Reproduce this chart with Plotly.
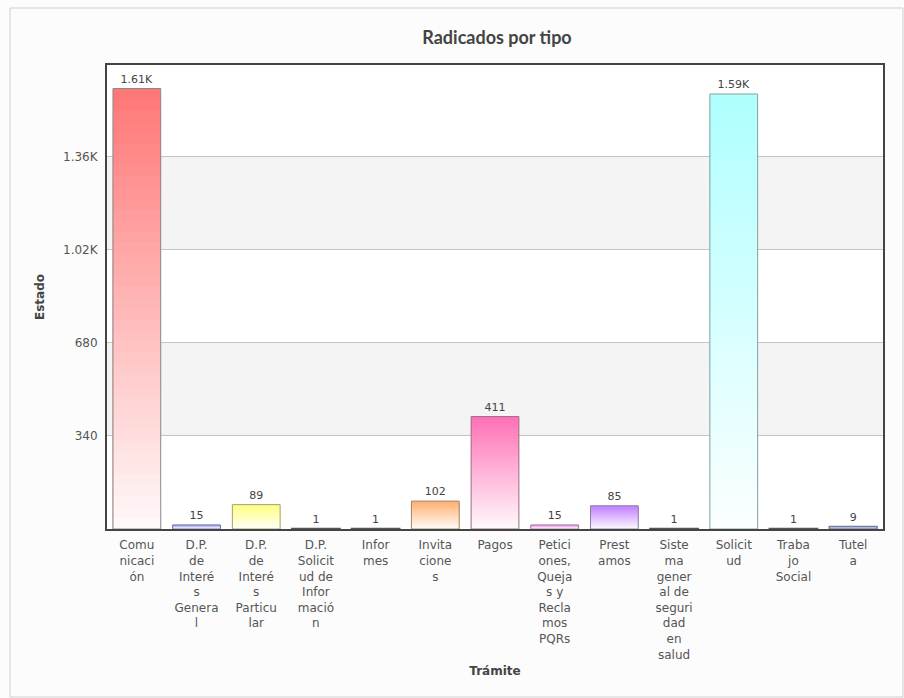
import plotly.graph_objects as go

# ---- data ----
categories = ["Comunicación", "D.P. de Interés General", "D.P. de Interés Particular",
              "D.P. Solicitud de Información", "Informes", "Invitaciones", "Pagos",
              "Peticiones, Quejas y Reclamos PQRs", "Prestamos",
              "Sistema general de seguridad en salud", "Solicitud", "Trabajo Social", "Tutela"]
tick_labels = ["Comu<br>nicaci<br>ón", "D.P.<br>de<br>Interé<br>s<br>Genera<br>l",
               "D.P.<br>de<br>Interé<br>s<br>Particu<br>lar",
               "D.P.<br>Solicit<br>ud de<br>Infor<br>mació<br>n",
               "Infor<br>mes", "Invita<br>cione<br>s", "Pagos",
               "Petici<br>ones,<br>Queja<br>s y<br>Recla<br>mos<br>PQRs",
               "Prest<br>amos", "Siste<br>ma<br>gener<br>al de<br>seguri<br>dad<br>en<br>salud",
               "Solicit<br>ud", "Traba<br>jo<br>Social", "Tutel<br>a"]
values = [1610, 15, 89, 1, 1, 102, 411, 15, 85, 1, 1590, 1, 9]
value_labels = ["1.61K", "15", "89", "1", "1", "102", "411", "15", "85", "1", "1.59K", "1", "9"]
y_tickvals = [340, 680, 1020, 1360]
y_ticktext = ["340", "680", "1.02K", "1.36K"]

bar_colors = ["#ff7878", "#9494f0", "#ffff80", "#555555", "#555555", "#ffb070", "#ff72b6",
              "#f080e8", "#c080ff", "#555555", "#b0ffff", "#555555", "#8898c8"]
line_colors = ["#8a8a8a", "#7070b0", "#a0a070", "#555555", "#555555", "#a08870", "#9a7080",
               "#a080a0", "#9080a0", "#555555", "#80a0a0", "#555555", "#7080a0"]
line_widths = [1, 1, 1, 2, 2, 1, 1, 1, 1, 2, 1, 2, 1.5]

FONT = "DejaVu Sans, Verdana, sans-serif"
W, H = 904, 698
L, R, T, B = 107, 21, 65, 169
YMAX = 1696


def hex_to_rgb(h):
    h = h.lstrip("#")
    return tuple(int(h[i:i + 2], 16) for i in (0, 2, 4))


def mix(c, t):
    r, g, b = hex_to_rgb(c)
    return "rgb(%d,%d,%d)" % (r + (255 - r) * t, g + (255 - g) * t, b + (255 - b) * t)


fig = go.Figure()

N = 40
for k in range(N):
    frac = (N - k) / N
    t = 0.95 * k / (N - 1)
    cols = [c if c == "#555555" else mix(c, t) for c in bar_colors]
    fig.add_trace(go.Bar(
        x=categories, y=[v * frac for v in values],
        marker=dict(color=cols, line=dict(width=0)),
        hoverinfo="skip", showlegend=False))

# outline + labels
fig.add_trace(go.Bar(
    x=categories, y=values,
    marker=dict(color="rgba(0,0,0,0)", line=dict(color=line_colors, width=line_widths)),
    text=value_labels, textposition="outside", cliponaxis=False,
    textfont=dict(family=FONT, size=11, color="#444444"),
    showlegend=False))

# alternating bands
shapes = []
bounds = [0] + y_tickvals + [YMAX]
for i in range(len(bounds) - 1):
    if i % 2 == 1:
        shapes.append(dict(type="rect", xref="paper", yref="y", x0=0, x1=1,
                           y0=bounds[i], y1=bounds[i + 1], fillcolor="#f4f4f4",
                           line=dict(width=0), layer="below"))
pw = W - L - R
ph = H - T - B
# outer page border
shapes.append(dict(type="rect", xref="paper", yref="paper",
                   x0=(10 - L) / pw, x1=(903 - L) / pw,
                   y0=(H - 697 - B) / ph, y1=(H - 8 - B) / ph,
                   line=dict(color="#cfcfcf", width=1), fillcolor="rgba(0,0,0,0)", layer="below"))

fig.update_layout(
    width=W, height=H,
    margin=dict(l=L, r=R, t=T, b=B),
    paper_bgcolor="#fcfcfc", plot_bgcolor="#ffffff",
    barmode="overlay", bargap=0.2,
    title=dict(text="<b>Radicados por tipo</b>", x=(497) / W, xanchor="center",
               y=1 - 38 / H, yanchor="middle", yref="container",
               font=dict(family="Lato", size=18, color="#444444")),
    shapes=shapes,
    font=dict(family=FONT, size=12, color="#555555"),
)
fig.update_xaxes(
    tickvals=categories, ticktext=tick_labels, showgrid=False,
    ticks="outside", ticklen=4, tickcolor="rgba(0,0,0,0)",
    showline=True, mirror=True, linecolor="#444444", linewidth=2,
    tickfont=dict(family=FONT, size=12, color="#555555"),
    title=dict(text="<b>Trámite</b>", font=dict(family=FONT, size=12, color="#444444"),
               standoff=6),
    fixedrange=True,
)
fig.update_yaxes(
    range=[0, YMAX], tickvals=y_tickvals, ticktext=y_ticktext,
    showgrid=True, gridcolor="#c4c4c4", gridwidth=1, zeroline=False,
    showline=True, mirror=True, linecolor="#444444", linewidth=2,
    tickfont=dict(family=FONT, size=12, color="#555555"),
    ticks="outside", ticklen=5, tickcolor="rgba(0,0,0,0)",
    title=dict(text="<b>Estado</b>", font=dict(family=FONT, size=12, color="#444444"),
               standoff=16),
)

fig.write_html("out.html")
